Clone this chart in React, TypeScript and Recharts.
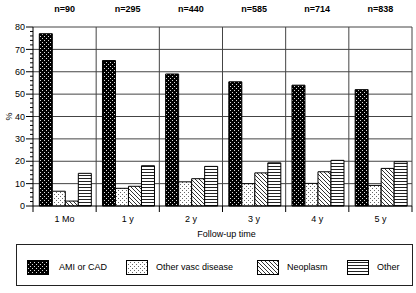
import React from 'react';
import { BarChart, Bar, XAxis, YAxis, CartesianGrid } from 'recharts';

const categories = ['1 Mo', '1 y', '2 y', '3 y', '4 y', '5 y'];
const nLabels = ['n=90', 'n=295', 'n=440', 'n=585', 'n=714', 'n=838'];
const amiCad = [77, 65, 59, 55.5, 54, 52];
const otherVasc = [6.6, 7.9, 10.8, 10, 10.1, 9.2];
const neoplasm = [2.2, 8.8, 12.2, 14.8, 15.3, 16.8];
const other = [14.6, 18, 17.7, 19.3, 20.4, 19.8];
const seriesNames = ['AMI or CAD', 'Other vasc disease', 'Neoplasm', 'Other'];
const gridTicks = [10, 20, 30, 40, 50, 60, 70, 80];

const minorTicks = Array.from({ length: 41 }, (_, i) => i * 2);
const boundaryTicks = categories.map((_, i) => i + 1);
const numTicks = Array.from({ length: categories.length * 2 + 1 }, (_, i) => i / 2);
const centerTicks = categories.map((_, i) => i + 0.5);

const data = categories.map((c, i) => ({
  cat: c,
  pos: i + 0.5,
  ami: amiCad[i],
  vasc: otherVasc[i],
  neo: neoplasm[i],
  other: other[i],
}));

const FONT = 'Arial, "Liberation Sans", sans-serif';
const FS = 9;
const fills = ['url(#pAmi)', 'url(#pVasc)', 'url(#pNeo)', 'url(#pOther)'];

const Patterns = () => (
  <defs>
    <pattern id="pAmi" width="4" height="4" patternUnits="userSpaceOnUse">
      <rect width="4" height="4" fill="#000" />
      <rect x="0" y="0" width="1" height="1" fill="#ddd" />
      <rect x="2" y="2" width="1" height="1" fill="#ddd" />
    </pattern>
    <pattern id="pVasc" width="4" height="4" patternUnits="userSpaceOnUse">
      <rect width="4" height="4" fill="#fff" />
      <rect x="0" y="0" width="1" height="1" fill="#666" />
      <rect x="2" y="2" width="1" height="1" fill="#666" />
    </pattern>
    <pattern id="pNeo" width="4" height="4" patternUnits="userSpaceOnUse">
      <rect width="4" height="4" fill="#fff" />
      <path d="M-1,-1 L5,5 M3,-1 L5,1 M-1,3 L1,5" stroke="#333" strokeWidth="1" />
    </pattern>
    <pattern id="pOther" width="3" height="3" patternUnits="userSpaceOnUse">
      <rect width="3" height="3" fill="#fff" />
      <rect x="0" y="1" width="3" height="1" fill="#222" />
    </pattern>
  </defs>
);

const YTick = (props: any) => {
  const { x, y, payload } = props;
  const v = payload.value;
  const major = v % 10 === 0;
  return (
    <g>
      <line x1={x - (major ? 7 : 3)} x2={x} y1={y} y2={y} stroke="#000" strokeWidth={1} />
      {major && (
        <text x={x - 8} y={y} dy="0.35em" textAnchor="end" fontSize={FS} fontFamily={FONT} fill="#000">
          {v}
        </text>
      )}
    </g>
  );
};

const XNumTick = (props: any) => {
  const { x, y, payload } = props;
  const v = payload.value;
  if (Number.isInteger(v)) {
    return <line x1={x} x2={x} y1={y} y2={y + 6} stroke="#000" strokeWidth={1} />;
  }
  return (
    <text x={x} y={y + 16} textAnchor="middle" fontSize={FS} fontFamily={FONT} fill="#000">
      {categories[Math.floor(v)]}
    </text>
  );
};

const TopTick = (props: any) => {
  const { x, y, payload } = props;
  return (
    <text x={x} y={y - 15} textAnchor="middle" fontSize={FS} fontWeight="bold" fontFamily={FONT} fill="#000">
      {nLabels[Math.floor(payload.value)]}
    </text>
  );
};

const YLabel = (props: any) => {
  const vb = props.viewBox || { x: 0, y: 0, width: 0, height: 0 };
  const cx = vb.x + 9;
  const cy = vb.y + vb.height / 2;
  return (
    <text x={cx} y={cy} transform={`rotate(-90 ${cx} ${cy})`} textAnchor="middle" dy="0.35em" fontSize={FS} fontFamily={FONT} fill="#000">
      %
    </text>
  );
};

const swatchX = [27, 126, 257, 347];
const textX = [59, 156, 287, 377];

const LegendBox = () => (
  <svg width={416} height={50} style={{ position: 'absolute', left: 0, top: 240 }}>
    <rect x={16.5} y={4.5} width={396} height={41} fill="#fff" stroke="#222" strokeWidth={1} />
    {seriesNames.map((n, i) => (
      <g key={n}>
        <rect x={swatchX[i] + 0.5} y={20.5} width={21} height={14} fill={fills[i]} stroke="#000" strokeWidth={1} />
        <text x={textX[i]} y={27} dy="0.35em" fontSize={FS} fontFamily={FONT} fill="#000">
          {n}
        </text>
      </g>
    ))}
  </svg>
);

export default function App() {
  return (
    <div style={{ position: 'absolute', left: 0, top: 0, width: 416, height: 293, background: '#fff' }}>
      <BarChart
        width={416}
        height={293}
        data={data}
        margin={{ top: 0, right: 4, bottom: 51, left: 0 }}
        barCategoryGap="10%"
        barGap={0}
      >
        <Patterns />
        <CartesianGrid
          xAxisId="num"
          yAxisId="main"
          horizontalValues={gridTicks}
          verticalValues={boundaryTicks}
          stroke="#444"
          strokeWidth={1}
        />
        <XAxis
          xAxisId="top"
          type="number"
          dataKey="pos"
          domain={[0, categories.length]}
          allowDataOverflow
          orientation="top"
          ticks={centerTicks}
          interval={0}
          height={27}
          axisLine={false}
          tickLine={false}
          tickSize={0}
          tickMargin={0}
          tick={<TopTick />}
        />
        <XAxis
          xAxisId="num"
          type="number"
          dataKey="pos"
          domain={[0, categories.length]}
          allowDataOverflow
          ticks={numTicks}
          interval={0}
          height={36}
          axisLine={{ stroke: '#000' }}
          tickLine={false}
          tickSize={0}
          tickMargin={0}
          tick={<XNumTick />}
          label={{ value: 'Follow-up time', position: 'insideBottom', offset: 5, fontSize: FS, fill: '#000', fontFamily: FONT, dx: 4 }}
        />
        <YAxis
          yAxisId="main"
          domain={[0, 80]}
          ticks={minorTicks}
          interval={0}
          width={33}
          axisLine={{ stroke: '#000' }}
          tickLine={false}
          tickSize={0}
          tickMargin={0}
          tick={<YTick />}
          label={<YLabel />}
        />
        <Bar xAxisId="num" yAxisId="main" dataKey="ami" name={seriesNames[0]} fill={fills[0]} stroke="#000" strokeWidth={1} isAnimationActive={false} />
        <Bar xAxisId="num" yAxisId="main" dataKey="vasc" name={seriesNames[1]} fill={fills[1]} stroke="#000" strokeWidth={1} isAnimationActive={false} />
        <Bar xAxisId="num" yAxisId="main" dataKey="neo" name={seriesNames[2]} fill={fills[2]} stroke="#000" strokeWidth={1} isAnimationActive={false} />
        <Bar xAxisId="num" yAxisId="main" dataKey="other" name={seriesNames[3]} fill={fills[3]} stroke="#000" strokeWidth={1} isAnimationActive={false} />
      </BarChart>
      <LegendBox />
    </div>
  );
}
